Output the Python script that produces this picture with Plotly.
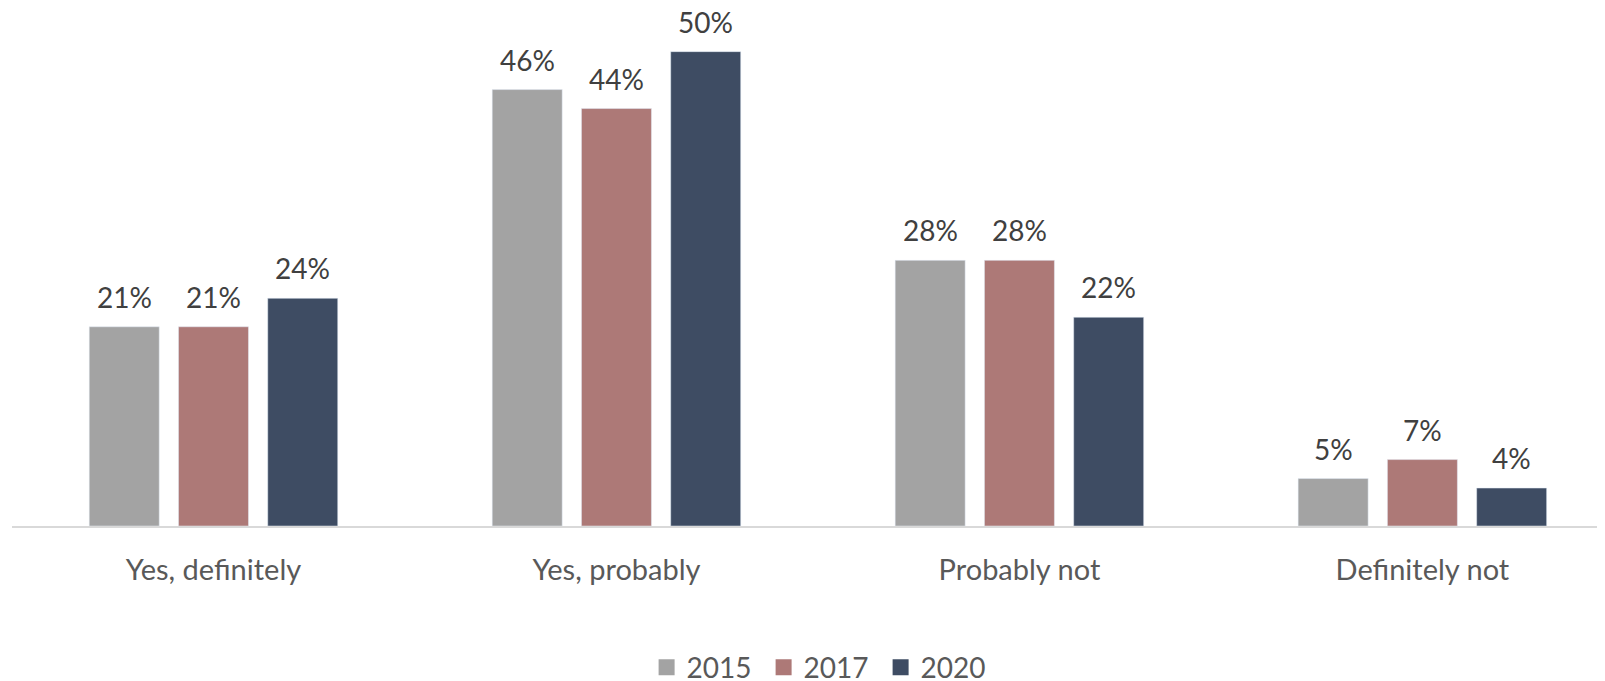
import plotly.graph_objects as go

categories = ["Yes, definitely", "Yes, probably", "Probably not", "Definitely not"]
years = ["2015", "2017", "2020"]
values_2015 = [21, 46, 28, 5]
values_2017 = [21, 44, 28, 7]
values_2020 = [24, 50, 22, 4]
series = [values_2015, values_2017, values_2020]
colors = ["#A3A3A3", "#AD7977", "#3E4C63"]

FONT = "Lato"
offsets = [-0.2215, 0.0, 0.2215]
bar_w = 0.1737

fig = go.Figure()
annotations = []
for name, vals, col, off in zip(years, series, colors, offsets):
    xs = [i + off for i in range(len(categories))]
    fig.add_trace(go.Bar(x=xs, y=vals, width=bar_w, marker_color=col,
                         showlegend=False, name=name, hoverinfo="skip"))
    for x, v in zip(xs, vals):
        annotations.append(dict(x=x, y=v, xref="x", yref="y", text=f"{v}%",
                                showarrow=False, yanchor="bottom", yshift=12,
                                borderpad=0,
                                font=dict(family=FONT, size=28, color="#404040")))
    fig.add_trace(go.Scatter(x=[None], y=[None], mode="markers", name=name,
                             marker=dict(symbol="square", size=18, color=col)))

fig.update_layout(
    width=1605, height=681,
    margin=dict(l=4, r=0, t=0, b=163, autoexpand=False),
    paper_bgcolor="white", plot_bgcolor="white",
    font=dict(family=FONT, size=28, color="#595959"),
    annotations=annotations,
    legend=dict(orientation="h", x=0.506, xanchor="center", y=-0.2732, yanchor="middle",
                font=dict(family=FONT, size=28, color="#595959"),
                entrywidth=72, entrywidthmode="pixels"),
    xaxis=dict(range=[-0.5, 3.473], tickvals=list(range(len(categories))),
               ticktext=categories, showgrid=False, zeroline=False,
               showline=True, linecolor="#D9D9D9", linewidth=2,
               ticks="outside", ticklen=17, tickcolor="rgba(0,0,0,0)",
               tickfont=dict(family=FONT, size=29, color="#595959")),
    yaxis=dict(range=[0, 54.6], visible=False, showgrid=False, zeroline=False),
)

fig.write_html("out.html")
